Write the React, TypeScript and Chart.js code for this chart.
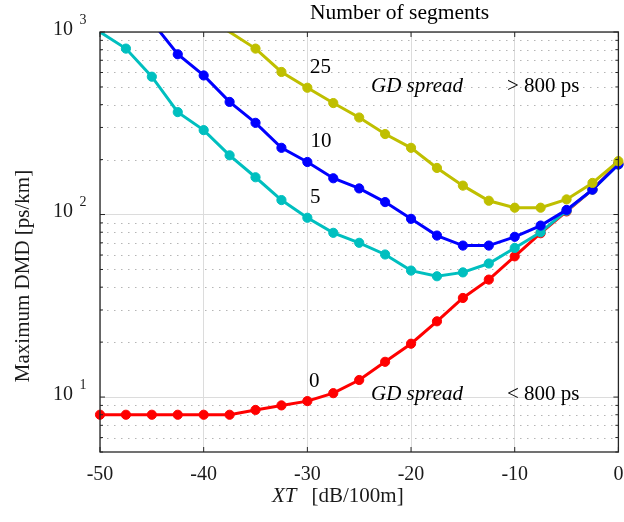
import React, { useEffect, useRef } from "react";
import { Chart, registerables } from "chart.js";

Chart.register(...registerables);

// XT [dB/100m]
const xtValues = [-50, -47.5, -45, -42.5, -40, -37.5, -35, -32.5, -30, -27.5, -25, -22.5, -20, -17.5, -15, -12.5, -10, -7.5, -5, -2.5, 0];

// Maximum DMD [ps/km] per number of segments
const seg0 = [8.0, 8.0, 8.0, 8.0, 8.0, 8.0, 8.5, 9.0, 9.5, 10.5, 12.4, 15.6, 19.6, 26.0, 34.9, 44.0, 59, 79, 104, 137, 190];
const seg5 = [1000, 811, 569, 364, 290, 211, 160, 120, 96, 79.4, 70, 60.4, 49.3, 45.9, 48.2, 53.9, 65.6, 80, 105, 137, 188];
const seg10 = [null, null, 1140, 755, 578, 414, 318, 232, 194, 158, 139, 117, 94.7, 76.7, 67.6, 67.6, 75.5, 87, 106, 137, 188];
const seg25 = [null, null, null, null, 1230, 1000, 811, 604, 495, 408, 340, 276, 232, 180, 144, 119, 109, 109, 121, 149, 196];

const xTicks = [-50, -40, -30, -20, -10, 0];
const yDecades = [10, 100, 1000];
const yExponents = ["1", "2", "3"];

const SERIF = "'Liberation Serif', 'Times New Roman', serif";

const toPoints = (arr: (number | null)[]) =>
  xtValues.map((x, i) => ({ x, y: arr[i] }));

const decorPlugin = {
  id: "decor",
  beforeDatasetsDraw(chart: any) {
    const { ctx, chartArea: a, scales } = chart;
    const y = scales.y;
    ctx.save();
    ctx.strokeStyle = "#b5b5b5";
    ctx.lineWidth = 1;
    ctx.setLineDash([1.5, 5.5]);
    const minors: number[] = [];
    for (const d of [1, 10, 100]) {
      for (let k = 2; k <= 9; k++) {
        const v = d * k;
        if (v > 5 && v < 1000) minors.push(v);
      }
    }
    for (const v of minors) {
      const py = Math.round(y.getPixelForValue(v)) + 0.5;
      ctx.beginPath();
      ctx.moveTo(a.left, py);
      ctx.lineTo(a.right, py);
      ctx.stroke();
    }
    ctx.restore();
  },
  afterDraw(chart: any) {
    const { ctx, chartArea: a, scales } = chart;
    const x = scales.x;
    const y = scales.y;
    ctx.save();
    // box
    ctx.strokeStyle = "#262626";
    ctx.lineWidth = 1.3;
    ctx.setLineDash([]);
    ctx.strokeRect(a.left, a.top, a.right - a.left, a.bottom - a.top);
    // x ticks
    ctx.lineWidth = 1;
    for (const v of xTicks) {
      const px = x.getPixelForValue(v);
      ctx.beginPath();
      ctx.moveTo(px, a.bottom);
      ctx.lineTo(px, a.bottom - 5);
      ctx.moveTo(px, a.top);
      ctx.lineTo(px, a.top + 5);
      ctx.stroke();
    }
    // y ticks major + minor
    const ys: [number, number][] = [];
    for (const v of yDecades) ys.push([v, 5]);
    for (const d of [1, 10, 100]) {
      for (let k = 2; k <= 9; k++) {
        const v = d * k;
        if (v >= 5 && v < 1000) ys.push([v, 3]);
      }
    }
    for (const [v, len] of ys) {
      const py = y.getPixelForValue(v);
      ctx.beginPath();
      ctx.moveTo(a.left, py);
      ctx.lineTo(a.left + len, py);
      ctx.moveTo(a.right, py);
      ctx.lineTo(a.right - len, py);
      ctx.stroke();
    }
    // x tick labels
    ctx.fillStyle = "#1a1a1a";
    ctx.font = `20px ${SERIF}`;
    ctx.textAlign = "center";
    ctx.textBaseline = "alphabetic";
    for (const v of xTicks) {
      ctx.fillText(String(v), x.getPixelForValue(v), 480);
    }
    // y tick labels 10^n
    yDecades.forEach((v, i) => {
      const py = y.getPixelForValue(v);
      ctx.font = `20px ${SERIF}`;
      ctx.textAlign = "right";
      ctx.fillText("10", 73, py + 2.5);
      ctx.font = `14px ${SERIF}`;
      ctx.textAlign = "left";
      ctx.fillText(yExponents[i], 79.5, py - 8.5);
    });
    // axis titles
    ctx.textAlign = "center";
    ctx.font = `21px ${SERIF}`;
    ctx.save();
    ctx.translate(29, 276);
    ctx.rotate(-Math.PI / 2);
    ctx.fillText("Maximum DMD [ps/km]", 0, 0);
    ctx.restore();
    ctx.textAlign = "left";
    ctx.font = `italic 21px ${SERIF}`;
    ctx.fillText("XT", 272, 501.5);
    ctx.font = `21px ${SERIF}`;
    ctx.fillText("[dB/100m]", 311.5, 501.5);
    // annotations
    ctx.fillStyle = "#000";
    ctx.font = `21.5px ${SERIF}`;
    ctx.fillText("Number of segments", 310, 18.5);
    ctx.font = `21px ${SERIF}`;
    ctx.fillText("25", 310, 73);
    ctx.fillText("10", 310.5, 147);
    ctx.fillText("5", 310, 203);
    ctx.fillText("0", 309, 387);
    ctx.fillText("> 800 ps", 507, 92);
    ctx.fillText("< 800 ps", 507, 400);
    ctx.font = `italic 21px ${SERIF}`;
    ctx.fillText("GD spread", 371, 92);
    ctx.fillText("GD spread", 371, 400);
    ctx.restore();
  },
};

const radiusFor = (ctx: any) => {
  const v = ctx.parsed ? ctx.parsed.y : null;
  return v !== null && v !== undefined && v >= 999 ? 0 : 4.6;
};

const mkDataset = (label: string, arr: (number | null)[], color: string, clip: any) => ({
  label,
  data: toPoints(arr),
  borderColor: color,
  backgroundColor: color,
  pointBackgroundColor: color,
  pointBorderColor: color,
  pointBorderWidth: 1,
  pointRadius: radiusFor,
  borderWidth: 3,
  tension: 0,
  clip,
});

export default function App() {
  const ref = useRef<HTMLCanvasElement>(null);
  useEffect(() => {
    document.body.style.margin = "0";
    const sideClip = { left: 8, right: 8, top: 0, bottom: 0 };
    const chart = new Chart(ref.current as HTMLCanvasElement, {
      type: "line",
      data: {
        datasets: [
          mkDataset("25", seg25, "#bfbf00", sideClip),
          mkDataset("10", seg10, "#0000ff", sideClip),
          mkDataset("5", seg5, "#00bfbf", sideClip),
          mkDataset("0", seg0, "#ff0000", false),
        ],
      },
      options: {
        responsive: false,
        devicePixelRatio: 1,
        animation: false,
        layout: { padding: { top: 32, right: 2, left: 0, bottom: 0 } },
        plugins: { legend: { display: false }, tooltip: { enabled: false } },
        scales: {
          x: {
            type: "linear",
            min: -50,
            max: 0,
            ticks: { display: false, stepSize: 10 },
            grid: { color: "#dcdcdc", lineWidth: 1, drawTicks: false },
            border: { display: false },
            afterFit: (s: any) => {
              s.height = 70;
            },
          },
          y: {
            type: "logarithmic",
            min: 5,
            max: 1000,
            ticks: { display: false },
            grid: { color: "#dcdcdc", lineWidth: 1, drawTicks: false },
            border: { display: false },
            afterBuildTicks: (s: any) => {
              s.ticks = yDecades.map((v) => ({ value: v }));
            },
            afterFit: (s: any) => {
              s.width = 100;
            },
          },
        },
      },
      plugins: [decorPlugin],
    } as any);
    return () => chart.destroy();
  }, []);
  return (
    <div style={{ position: "absolute", left: 0, top: 0, width: 624, height: 522, background: "#fff" }}>
      <canvas ref={ref} width={624} height={522} style={{ display: "block", width: 624, height: 522 }} />
    </div>
  );
}
